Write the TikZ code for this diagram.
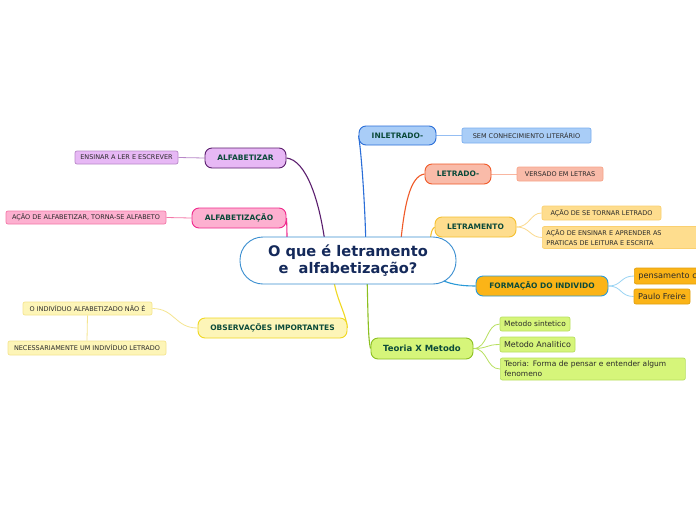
\documentclass[tikz,border=0pt]{standalone}
\usepackage{fontspec}
\setmainfont{DejaVu Sans}
\usetikzlibrary{backgrounds}
\definecolor{lbltxt}{HTML}{0B4A3A}
\definecolor{navy}{HTML}{14295A}
\definecolor{subtxt}{HTML}{2A2A2A}
\definecolor{cblue}{HTML}{3A8ED0}
\definecolor{inlFill}{HTML}{A9CDF7}\definecolor{inlDraw}{HTML}{2A6ED8}\definecolor{inlSub}{HTML}{7AAEF0}
\definecolor{letFill}{HTML}{F9BBA9}\definecolor{letDraw}{HTML}{F05A28}\definecolor{letSub}{HTML}{F8A488}
\definecolor{ltmFill}{HTML}{FEDD8E}\definecolor{ltmDraw}{HTML}{F5C030}\definecolor{ltmSub}{HTML}{FAD070}
\definecolor{forFill}{HTML}{FBB417}\definecolor{forDraw}{HTML}{2A9AD8}\definecolor{forSub}{HTML}{E0A010}\definecolor{forLine}{HTML}{9AD4F4}
\definecolor{teoFill}{HTML}{D6F57A}\definecolor{teoDraw}{HTML}{8CC020}\definecolor{teoSub}{HTML}{B8E060}
\definecolor{obsFill}{HTML}{FDF5B8}\definecolor{obsDraw}{HTML}{F0D820}\definecolor{obsSub}{HTML}{F5E590}
\definecolor{alfFill}{HTML}{E7B8F5}\definecolor{alfDraw}{HTML}{5B1E6E}\definecolor{alfSub}{HTML}{B888C8}
\definecolor{azFill}{HTML}{FDB0D0}\definecolor{azDraw}{HTML}{F0288C}\definecolor{azSub}{HTML}{F478A8}
\begin{document}
\begin{tikzpicture}[x=1pt,y=-1pt,
  mainbox/.style={rounded corners=7pt, draw, line width=0.9pt, inner sep=0pt, minimum height=20pt,
    font=\fontsize{7.5}{9}\selectfont\bfseries, text=lbltxt},
  subbox/.style={rounded corners=2pt, draw, line width=0.7pt, inner sep=0pt, minimum height=14pt,
    font=\fontsize{6.5}{8}\selectfont, text=subtxt},
  branch/.style={line width=1.1pt},
  twig/.style={line width=0.8pt}]
\clip (0,0) rectangle (696,520);

% central
\node[draw=cblue, fill=white, line width=0.9pt, rounded corners=23pt, minimum width=216pt, minimum height=47pt,
  inner sep=0pt, align=center, text=navy, font=\fontsize{14.6}{17}\selectfont\bfseries] (central) at (348,260.5)
  {O que é letramento\\e\ \ alfabetização?};

% right side
\node[mainbox, fill=inlFill, draw=inlDraw, minimum width=77pt, minimum height=19pt] (inl) at (397.5,135.5) {INLETRADO-};
\node[subbox, fill=inlFill, draw=inlSub, minimum width=129pt, minimum height=15pt] (sem) at (526.5,135.5) {SEM CONHECIMIENTO LITERÁRIO};

\node[mainbox, fill=letFill, draw=letDraw, minimum width=66pt] (let) at (458,174) {LETRADO-};
\node[subbox, fill=letFill, draw=letSub, minimum width=86pt] (ver) at (560,174) {VERSADO EM LETRAS};

\node[mainbox, fill=ltmFill, draw=ltmDraw, minimum width=81pt] (ltm) at (475.5,227) {LETRAMENTO};
\node[subbox, fill=ltmFill, draw=ltmSub, minimum width=119pt] (ltm1) at (601.5,213) {AÇÃO DE SE TORNAR LETRADO};
\node[subbox, fill=ltmFill, draw=ltmSub, minimum width=170pt, minimum height=22pt, anchor=west, align=left,
  text width=164pt, inner xsep=4pt, font=\fontsize{6.5}{9.5}\selectfont] (ltm2) at (542,237.5) {AÇÃO DE ENSINAR E APRENDER AS\\PRATICAS DE LEITURA E ESCRITA};

\node[mainbox, fill=forFill, draw=forDraw, minimum width=132pt] (for) at (542,286) {FORMAÇÃO DO INDIVIDO};
\node[subbox, fill=forFill, draw=forSub, minimum width=90pt, minimum height=16pt, anchor=west, align=left,
  text width=84pt, inner xsep=4pt, font=\fontsize{8.2}{9.5}\selectfont] (pen) at (634,276) {pensamento crítico};
\node[subbox, fill=forFill, draw=forSub, minimum width=56pt, minimum height=15pt, font=\fontsize{8.2}{9.5}\selectfont] (pau) at (662,296.5) {Paulo Freire};

\node[mainbox, fill=teoFill, draw=teoDraw, minimum width=102pt, minimum height=21pt, font=\fontsize{8.5}{10}\selectfont\bfseries] (teo) at (422,348.5) {Teoria X Metodo};
\node[subbox, fill=teoFill, draw=teoSub, minimum width=70pt, font=\fontsize{7.4}{9}\selectfont] (teo1) at (535,324) {Metodo sintetico};
\node[subbox, fill=teoFill, draw=teoSub, minimum width=75pt, minimum height=15pt, font=\fontsize{8}{9.5}\selectfont] (teo2) at (537.5,344.5) {Metodo Analitico};
\node[subbox, fill=teoFill, draw=teoSub, minimum width=183pt, minimum height=22pt, anchor=west, align=left,
  text width=177pt, inner xsep=4pt, font=\fontsize{7.5}{10}\selectfont] (teo3) at (500,369) {Teoria: Forma de pensar e entender algum\\fenomeno};

% left side
\node[mainbox, fill=obsFill, draw=obsDraw, minimum width=149pt] (obs) at (272.5,328) {OBSERVAÇÕES IMPORTANTES};
\node[subbox, fill=obsFill, draw=obsSub, minimum width=129pt, minimum height=13pt] (obs1) at (87.5,308.5) {O INDIVÍDUO ALFABETIZADO NÃO É};
\node[subbox, fill=obsFill, draw=obsSub, minimum width=158pt, minimum height=14pt] (obs2) at (87,348) {NECESSARIAMENTE UM INDIVÍDUO LETRADO};

\node[mainbox, fill=alfFill, draw=alfDraw, minimum width=81pt] (alf) at (245.5,158) {ALFABETIZAR};
\node[subbox, fill=alfFill, draw=alfSub, minimum width=103pt, minimum height=13pt] (alf1) at (126.5,157.5) {ENSINAR A LER E ESCREVER};

\node[mainbox, fill=azFill, draw=azDraw, minimum width=94pt] (az) at (239,218) {ALFABETIZAÇÃO};
\node[subbox, fill=azFill, draw=azSub, minimum width=160pt, minimum height=13pt] (az1) at (86,217.5) {AÇÃO DE ALFABETIZAR, TORNA-SE ALFABETO};

% attachment points inside the central node
\coordinate (cA) at (326,250);
\coordinate (cZ) at (287,250);
\coordinate (cI) at (366,250);
\coordinate (cL) at (400,250);
\coordinate (cT) at (430,250);
\coordinate (cF) at (438,278);
\coordinate (cM) at (367,275);
\coordinate (cO) at (333,275);

\begin{scope}[on background layer]
\fill[white] (0,0) rectangle (696,520);
% main branches
\draw[branch, alfDraw] (alf.east) .. controls (306,160) and (320,200) .. (cA);
\draw[branch, azDraw] (az.east) .. controls (287,226) and (287,235) .. (cZ);
\draw[branch, inlDraw] (inl.west) .. controls (361,150) and (365,200) .. (cI);
\draw[branch, letDraw] (let.west) .. controls (410,176) and (404,205) .. (cL);
\draw[branch, ltmDraw] (ltm.west) .. controls (431,229) and (430,238) .. (cT);
\draw[branch, forDraw] (cF) .. controls (448,284) and (460,286) .. (for.west);
\draw[branch, teoDraw] (cM) .. controls (368,310) and (368,340) .. (teo.west);
\draw[branch, obsDraw] (cO) .. controls (336,300) and (345,310) .. (obs.east);
% twigs
\draw[twig, inlSub!80] (inl.east) -- (sem.west);
\draw[twig, letSub!80] (let.east) -- (ver.west);
\draw[twig, ltmSub!80] (ltm.east) .. controls (530,227) and (530,213) .. (ltm1.west);
\draw[twig, ltmSub!80] (ltm.east) .. controls (530,227) and (530,237.5) .. (ltm2.west);
\draw[twig, forLine] (for.east) .. controls (622,286) and (620,276) .. (pen.west);
\draw[twig, forLine] (for.east) .. controls (622,286) and (620,296.5) .. (pau.west);
\draw[twig, teoSub] (teo.east) .. controls (488,348.5) and (486,324) .. (teo1.west);
\draw[twig, teoSub] (teo.east) .. controls (488,348.5) and (486,344.5) .. (teo2.west);
\draw[twig, teoSub] (teo.east) .. controls (488,348.5) and (486,369) .. (teo3.west);
\draw[twig, obsSub] (obs.west) .. controls (175,328) and (175,308.5) .. (obs1.east);
\draw[twig, obsSub] (obs1.south) -- (obs2.north);
\draw[twig, alfSub] (alf.west) -- (alf1.east);
\draw[twig, azSub] (az.west) -- (az1.east);
\end{scope}
\end{tikzpicture}
\end{document}
